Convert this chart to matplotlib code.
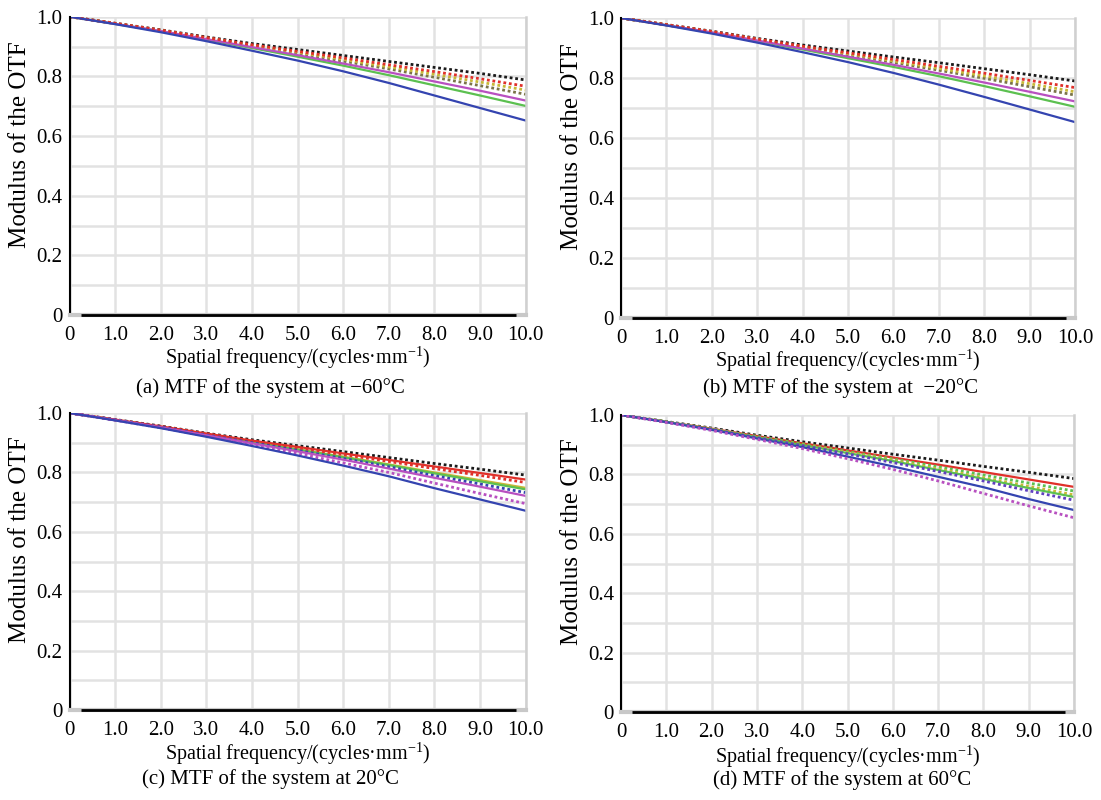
import matplotlib.pyplot as plt

plt.rcParams['font.family'] = ['Liberation Serif', 'DejaVu Serif']
plt.rcParams['mathtext.fontset'] = 'custom'
plt.rcParams['mathtext.rm'] = 'Liberation Serif'

freq = [0, 1, 2, 3, 4, 5, 6, 7, 8, 9, 10]

# (a) -60 C
a_black = [1.0, 0.978, 0.956, 0.932, 0.910, 0.890, 0.870, 0.850, 0.830, 0.810, 0.788]
a_red = [1.0, 0.978, 0.955, 0.930, 0.906, 0.884, 0.862, 0.839, 0.816, 0.792, 0.767]
a_olive = [1.0, 0.977, 0.954, 0.929, 0.904, 0.881, 0.857, 0.832, 0.807, 0.781, 0.754]
a_gray = [1.0, 0.977, 0.953, 0.927, 0.902, 0.877, 0.851, 0.825, 0.797, 0.769, 0.740]
a_magenta = [1.0, 0.976, 0.952, 0.925, 0.898, 0.871, 0.843, 0.814, 0.783, 0.752, 0.719]
a_green = [1.0, 0.976, 0.951, 0.923, 0.895, 0.866, 0.836, 0.804, 0.770, 0.736, 0.701]
a_blue = [1.0, 0.975, 0.948, 0.918, 0.886, 0.853, 0.817, 0.778, 0.736, 0.694, 0.652]

# (b) -20 C
b_black = [1.0, 0.978, 0.956, 0.932, 0.910, 0.890, 0.870, 0.851, 0.831, 0.811, 0.790]
b_red = [1.0, 0.978, 0.955, 0.930, 0.906, 0.884, 0.862, 0.839, 0.816, 0.792, 0.768]
b_olive = [1.0, 0.977, 0.954, 0.929, 0.904, 0.881, 0.857, 0.832, 0.807, 0.781, 0.754]
b_gray = [1.0, 0.977, 0.953, 0.927, 0.902, 0.877, 0.852, 0.826, 0.799, 0.771, 0.743]
b_magenta = [1.0, 0.976, 0.952, 0.925, 0.898, 0.871, 0.844, 0.815, 0.785, 0.754, 0.722]
b_green = [1.0, 0.976, 0.951, 0.923, 0.895, 0.866, 0.837, 0.806, 0.773, 0.739, 0.704]
b_blue = [1.0, 0.975, 0.948, 0.918, 0.886, 0.853, 0.817, 0.778, 0.737, 0.695, 0.653]

# (c) 20 C
c_black = [1.0, 0.978, 0.956, 0.932, 0.910, 0.890, 0.870, 0.850, 0.830, 0.811, 0.791]
c_red = [1.0, 0.978, 0.955, 0.931, 0.907, 0.886, 0.864, 0.842, 0.820, 0.798, 0.776]
c_red_dot = [1.0, 0.977, 0.955, 0.930, 0.906, 0.883, 0.860, 0.837, 0.813, 0.790, 0.766]
c_olive = [1.0, 0.977, 0.953, 0.928, 0.902, 0.878, 0.853, 0.827, 0.800, 0.774, 0.748]
c_green = [1.0, 0.977, 0.953, 0.927, 0.902, 0.877, 0.851, 0.825, 0.797, 0.770, 0.743]
c_blue_dot = [1.0, 0.977, 0.953, 0.926, 0.900, 0.874, 0.847, 0.819, 0.789, 0.761, 0.732]
c_magenta = [1.0, 0.976, 0.952, 0.925, 0.898, 0.871, 0.843, 0.813, 0.782, 0.752, 0.721]
c_magenta_dot = [1.0, 0.976, 0.950, 0.922, 0.893, 0.864, 0.832, 0.800, 0.764, 0.729, 0.695]
c_blue = [1.0, 0.975, 0.949, 0.920, 0.889, 0.857, 0.823, 0.787, 0.747, 0.709, 0.671]

# (d) 60 C
d_black = [1.0, 0.978, 0.956, 0.932, 0.910, 0.889, 0.868, 0.848, 0.827, 0.807, 0.786]
d_red = [1.0, 0.977, 0.954, 0.929, 0.905, 0.881, 0.857, 0.833, 0.808, 0.783, 0.758]
d_green_dot = [1.0, 0.977, 0.953, 0.928, 0.903, 0.877, 0.852, 0.826, 0.798, 0.771, 0.744]
d_olive = [1.0, 0.977, 0.953, 0.926, 0.900, 0.874, 0.848, 0.819, 0.789, 0.760, 0.731]
d_green = [1.0, 0.977, 0.952, 0.925, 0.899, 0.872, 0.845, 0.815, 0.785, 0.754, 0.724]
d_purple_dot = [1.0, 0.976, 0.952, 0.924, 0.897, 0.869, 0.840, 0.810, 0.778, 0.745, 0.713]
d_blue = [1.0, 0.976, 0.950, 0.921, 0.892, 0.860, 0.827, 0.792, 0.757, 0.717, 0.680]
d_magenta_dot = [1.0, 0.975, 0.948, 0.918, 0.887, 0.853, 0.817, 0.778, 0.736, 0.694, 0.654]

base_x = [0.25, 9.8]
base_y = [0, 0]

x_ticks = [0, 1, 2, 3, 4, 5, 6, 7, 8, 9, 10]
x_labels = ['0', '1.0', '2.0', '3.0', '4.0', '5.0', '6.0', '7.0', '8.0', '9.0', '10.0']
y_ticks = [0, 0.2, 0.4, 0.6, 0.8, 1.0]
y_labels = ['0', '0.2', '0.4', '0.6', '0.8', '1.0']
y_grid = [0.1, 0.3, 0.5, 0.7, 0.9]

captions = ['(a) MTF of the system at \u221260\u00b0C',
            '(b) MTF of the system at  \u221220\u00b0C',
            '(c) MTF of the system at 20\u00b0C',
            '(d) MTF of the system at 60\u00b0C']

BLACK = '#1a1a1a'
RED = '#e0302a'
OLIVE = '#c8b838'
GRAY = '#7a7448'
MAGENTA = '#b850c0'
GREEN = '#5cc050'
BLUE = '#3444b0'
PURPLE = '#6040c0'

panels = [
    [(a_black, BLACK, ':'), (a_gray, GRAY, ':'), (a_olive, OLIVE, ':'),
     (a_green, GREEN, '-'), (a_magenta, MAGENTA, '-'), (a_red, RED, ':'),
     (a_blue, BLUE, '-')],
    [(b_black, BLACK, ':'), (b_gray, GRAY, ':'), (b_olive, OLIVE, ':'),
     (b_green, GREEN, '-'), (b_magenta, MAGENTA, '-'), (b_red, RED, ':'),
     (b_blue, BLUE, '-')],
    [(c_black, BLACK, ':'), (c_olive, OLIVE, '-'), (c_green, GREEN, '-'),
     (c_red_dot, RED, ':'), (c_red, RED, '-'), (c_blue_dot, BLUE, ':'),
     (c_magenta, MAGENTA, '-'), (c_magenta_dot, MAGENTA, ':'), (c_blue, BLUE, '-')],
    [(d_black, BLACK, ':'), (d_red, RED, '-'), (d_green_dot, GREEN, ':'),
     (d_olive, OLIVE, ':'), (d_green, GREEN, '-'), (d_purple_dot, PURPLE, ':'),
     (d_blue, BLUE, '-'), (d_magenta_dot, MAGENTA, ':')],
]

W, H = 1101.0, 800.0
# pixel boxes: left, right, top (y=1), bottom (y=0)
boxes = [(69.5, 525.5, 16.7, 315), (621, 1075, 18, 318),
         (69.5, 525.5, 413, 710), (621, 1074, 415, 712)]
xlabel_y = [358, 361, 754, 757]
caption_y = [388, 388, 779, 780]
caption_x = [270, 840, 270, 842]

fig = plt.figure(figsize=(11.01, 8.0), dpi=100)

for i in range(4):
    l, r, t, b = boxes[i]
    ax = fig.add_axes([l / W, 1 - b / H, (r - l) / W, (b - t) / H])
    for vals, col, ls in panels[i]:
        if ls == ':':
            ax.plot(freq, vals, color=col, linestyle=(0, (1, 1)), linewidth=2.0)
        else:
            ax.plot(freq, vals, color=col, linewidth=1.6)
    ax.plot(base_x, base_y, color='black', linewidth=2.0, solid_capstyle='butt',
            clip_on=False, zorder=5)

    ax.set_xlim(0, 10)
    ax.set_ylim(0, 1)
    ax.set_xticks(x_ticks)
    ax.set_xticklabels(x_labels)
    ax.set_yticks(y_ticks)
    ax.set_yticklabels(y_labels)
    ax.set_yticks(y_grid, minor=True)
    ax.grid(True, which='both', color='#e2e2e2', linewidth=1.8)
    ax.set_axisbelow(True)
    ax.tick_params(length=0, labelsize=15)
    ax.tick_params(axis='x', pad=8)
    ax.tick_params(axis='y', pad=5)
    ax.tick_params(which='minor', length=0)

    ax.spines['top'].set_visible(False)
    ax.spines['right'].set_color('#d0d0d0')
    ax.spines['right'].set_linewidth(1.8)
    ax.spines['bottom'].set_color('#c8c8c8')
    ax.spines['bottom'].set_linewidth(3)
    ax.spines['left'].set_color('black')
    ax.spines['left'].set_linewidth(1.5)

    ax.set_xlabel('Spatial frequency/(cycles\u00b7mm$^{\\mathrm{-1}}$)', fontsize=14.5, va='center')
    ax.xaxis.set_label_coords(0.5, -(xlabel_y[i] - b) / (b - t))
    ax.set_ylabel('Modulus of the OTF', fontsize=18, va='center')
    ax.yaxis.set_label_coords((20 + (0 if i % 2 == 0 else 552) - l) / (r - l), 0.572)

    fig.text(caption_x[i] / W, 1 - caption_y[i] / H, captions[i], fontsize=15,
             ha='center', va='center')

fig.savefig('out.png', dpi=100)
